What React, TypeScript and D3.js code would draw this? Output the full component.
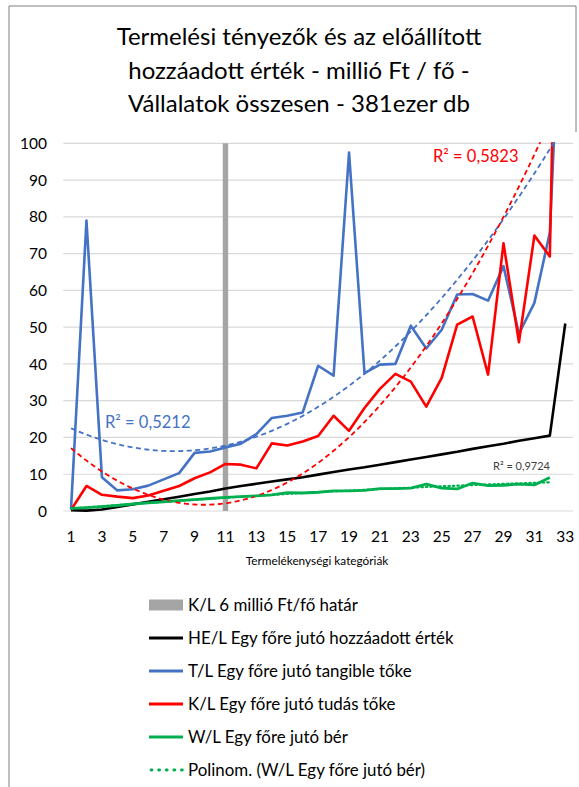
import React from 'react';
import * as d3 from 'd3';

const categories = [1,2,3,4,5,6,7,8,9,10,11,12,13,14,15,16,17,18,19,20,21,22,23,24,25,26,27,28,29,30,31,32,33];
const xTickLabels = ['1','3','5','7','9','11','13','15','17','19','21','23','25','27','29','31','33'];
const yTicks = [0,10,20,30,40,50,60,70,80,90,100];

// HE/L Egy főre jutó hozzáadott érték
const heL = [0.2,0.1,0.4,1.1,1.8,2.5,3.2,3.9,4.6,5.3,6.1,6.8,7.4,8.0,8.6,9.2,9.9,10.6,11.3,11.9,12.6,13.3,14.0,14.7,15.4,16.1,16.9,17.6,18.3,19.1,19.8,20.5,51];
// T/L Egy főre jutó tangible tőke
const tL = [0.5,79,9.2,5.6,5.9,6.9,8.6,10.3,15.8,16.2,17.3,18.3,20.9,25.3,25.9,26.8,39.5,36.8,97.5,37.5,39.8,40,50.4,44.2,49.3,58.9,59,57.2,66.6,48.2,56.6,75.7,170];
// K/L Egy főre jutó tudás tőke
const kL = [0.3,6.8,4.4,3.9,3.5,4.2,5.5,6.8,8.9,10.5,12.8,12.6,11.6,18.4,17.8,18.9,20.4,25.9,21.8,28,33.2,37.3,35.2,28.4,36.2,50.7,52.9,37.1,72.8,45.9,74.9,69.2,276];
// W/L Egy főre jutó bér
const wL = [0.7,0.9,1.2,1.5,1.9,2.2,2.5,2.8,3.1,3.4,3.7,3.9,4.1,4.4,5.0,4.9,5.1,5.5,5.5,5.6,6.1,6.1,6.2,7.3,6.2,6.0,7.6,6.9,7.0,7.3,7.1,9.1];

const boundaryCategory = [11];
const boundaryValue = [100];

// quadratic trendline coefficients: a*x^2 + b*x + c
const tTrendCoef = [0.139, -2.138, 24.5];
const kTrendCoef = [0.208, -3.994, 20.87];

const r2Labels = ['R² = 0,5212', 'R² = 0,5823', 'R² = 0,9724'];
const titleLines = ['Termelési tényezők és az előállított', 'hozzáadott érték - millió Ft / fő  -', 'Vállalatok összesen - 381ezer db'];
const xAxisTitle = 'Termelékenységi kategóriák';
const legendLabels = [
  'K/L 6 millió Ft/fő határ',
  'HE/L Egy főre jutó hozzáadott érték',
  'T/L Egy főre jutó tangible tőke',
  'K/L Egy főre jutó tudás tőke',
  'W/L Egy főre jutó bér',
  'Polinom. (W/L Egy főre jutó bér)',
];

function polyfit2(xs: number[], ys: number[]): number[] {
  // least squares for y = a x^2 + b x + c
  let s0 = 0, s1 = 0, s2 = 0, s3 = 0, s4 = 0, t0 = 0, t1 = 0, t2 = 0;
  xs.forEach((x, i) => {
    const y = ys[i];
    s0 += 1; s1 += x; s2 += x * x; s3 += x * x * x; s4 += x * x * x * x;
    t0 += y; t1 += x * y; t2 += x * x * y;
  });
  const M = [[s4, s3, s2, t2], [s3, s2, s1, t1], [s2, s1, s0, t0]];
  for (let i = 0; i < 3; i++) {
    for (let j = i + 1; j < 3; j++) {
      const f = M[j][i] / M[i][i];
      for (let k = i; k < 4; k++) M[j][k] -= f * M[i][k];
    }
  }
  const r = [0, 0, 0];
  for (let i = 2; i >= 0; i--) {
    let s = M[i][3];
    for (let k = i + 1; k < 3; k++) s -= M[i][k] * r[k];
    r[i] = s / M[i][i];
  }
  return r;
}

const FONT = 'Lato, "Open Sans", sans-serif';

export default function App() {
  const W = 579, H = 787;
  const plotLeft = 63.3, plotRight = 573, plotTop = 143.3, plotBottom = 511;

  const x = d3.scaleBand<number>().domain(categories).range([plotLeft, plotRight]).paddingInner(0).paddingOuter(0);
  const bw = x.bandwidth();
  const cx = (c: number) => (x(c) as number) + bw / 2;
  const y = d3.scaleLinear().domain([0, 100]).range([plotBottom, plotTop]);
  const xc = d3.scaleLinear().domain([1, 33]).range([cx(1), cx(33)]);

  const seriesLine = (vals: number[]) =>
    d3.line<number>().x((_, i) => cx(categories[i])).y((v) => y(v))(vals) || '';

  const trendPath = (coef: number[], x0: number, x1: number) => {
    const pts = d3.range(x0, x1 + 0.0001, 0.1).map((t) => [t, coef[0] * t * t + coef[1] * t + coef[2]] as [number, number]);
    return d3.line<[number, number]>().x((d) => xc(d[0])).y((d) => y(d[1])).curve(d3.curveLinear)(pts) || '';
  };

  const wCoef = polyfit2(categories.slice(0, wL.length), wL);

  const legendY = [605, 638, 671, 704, 737, 770];
  const legSymX0 = 149, legSymX1 = 183, legTextX = 188;

  return (
    <svg width={W} height={H} style={{ position: 'absolute', left: 0, top: 0, background: '#fff' }} fontFamily={FONT}>
      <defs>
        <clipPath id="plotClip">
          <rect x={plotLeft} y={plotTop - 1} width={plotRight - plotLeft} height={plotBottom - plotTop + 10} />
        </clipPath>
      </defs>
      <rect x={0} y={0} width={W} height={H} fill="#fff" />
      {/* chart border */}
      <line x1={9} y1={6} x2={576} y2={6} stroke="#7f7f7f" strokeWidth={1} />
      <line x1={9} y1={6} x2={9} y2={H} stroke="#7f7f7f" strokeWidth={1} />
      <line x1={576} y1={6} x2={576} y2={132} stroke="#7f7f7f" strokeWidth={1} />

      {/* title */}
      {titleLines.map((t, i) => (
        <text key={i} x={299} y={45 + i * 33.5} textAnchor="middle" fontSize={24} fontWeight={400} fill="#000">{t}</text>
      ))}

      {/* gridlines */}
      {yTicks.map((v) => (
        <line key={v} x1={plotLeft} x2={plotRight} y1={y(v)} y2={y(v)} stroke="#d9d9d9" strokeWidth={1.2} />
      ))}
      {/* y labels */}
      {yTicks.map((v) => (
        <text key={v} x={47} y={y(v)} dy="0.36em" textAnchor="end" fontSize={15.5} fill="#000">{v}</text>
      ))}
      {/* x labels */}
      {xTickLabels.map((l) => (
        <text key={l} x={cx(+l)} y={542} textAnchor="middle" fontSize={15.5} fill="#000">{l}</text>
      ))}
      <text x={317} y={565} textAnchor="middle" fontSize={11.8} fill="#000">{xAxisTitle}</text>

      {/* boundary column */}
      {boundaryCategory.map((c, i) => (
        <rect key={c} x={cx(c) - 2.7} width={5.4} y={y(boundaryValue[i])} height={y(0) - y(boundaryValue[i])} fill="#a5a5a5" />
      ))}

      <g clipPath="url(#plotClip)">
        <path d={seriesLine(heL)} fill="none" stroke="#000" strokeWidth={2.6} strokeLinejoin="round" />
        <path d={seriesLine(tL)} fill="none" stroke="#4472c4" strokeWidth={2.6} strokeLinejoin="round" />
        <path d={seriesLine(kL)} fill="none" stroke="#ff0000" strokeWidth={2.6} strokeLinejoin="round" />
        <path d={seriesLine(wL)} fill="none" stroke="#00b050" strokeWidth={2.8} strokeLinejoin="round" />
        <path d={trendPath(tTrendCoef, 1, 33)} fill="none" stroke="#4472c4" strokeWidth={1.8} strokeDasharray="5,3.5" />
        <path d={trendPath(kTrendCoef, 1, 33)} fill="none" stroke="#ff0000" strokeWidth={1.8} strokeDasharray="5,3.5" />
        <path d={trendPath(wCoef, 1, 32)} fill="none" stroke="#00b050" strokeWidth={2.2} strokeDasharray="1.5,3" strokeLinecap="round" />
      </g>

      {/* R² labels */}
      <text x={105} y={428} fontSize={16.5} fill="#4472c4">{r2Labels[0]}</text>
      <text x={433} y={162} fontSize={16.5} fill="#ff0000">{r2Labels[1]}</text>
      <text x={493} y={470} fontSize={11} fill="#404040">{r2Labels[2]}</text>

      {/* legend */}
      <rect x={legSymX0} y={legendY[0] - 5.5} width={legSymX1 - legSymX0} height={11} fill="#a5a5a5" />
      <line x1={legSymX0} x2={legSymX1} y1={legendY[1]} y2={legendY[1]} stroke="#000" strokeWidth={2.8} />
      <line x1={legSymX0} x2={legSymX1} y1={legendY[2]} y2={legendY[2]} stroke="#4472c4" strokeWidth={2.8} />
      <line x1={legSymX0} x2={legSymX1} y1={legendY[3]} y2={legendY[3]} stroke="#ff0000" strokeWidth={2.8} />
      <line x1={legSymX0} x2={legSymX1} y1={legendY[4]} y2={legendY[4]} stroke="#00b050" strokeWidth={2.8} />
      <line x1={legSymX0 + 2} x2={legSymX1} y1={legendY[5]} y2={legendY[5]} stroke="#00b050" strokeWidth={2.8} strokeDasharray="1,6.6" strokeLinecap="round" />
      {legendLabels.map((l, i) => (
        <text key={i} x={legTextX} y={legendY[i]} dy="0.36em" fontSize={16.9} fill="#000">{l}</text>
      ))}
    </svg>
  );
}
